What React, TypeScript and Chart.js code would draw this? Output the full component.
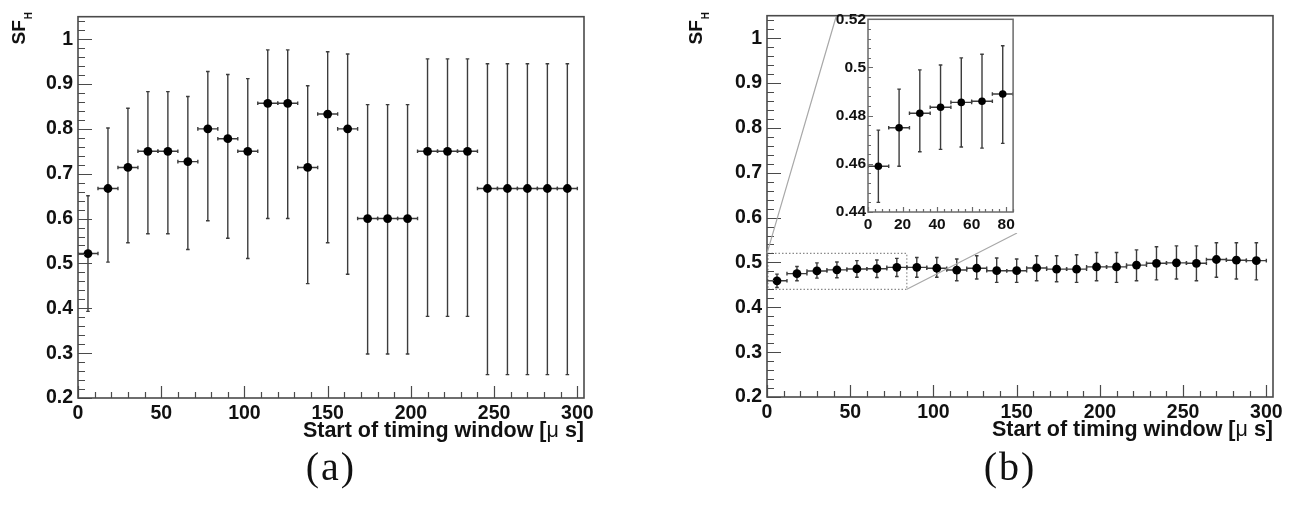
import React, { useEffect, useRef } from "react";
import { Chart, registerables } from "chart.js";
Chart.register(...registerables);

// ---------- data ----------
const BIN_CENTERS = [6, 18, 30, 42, 54, 66, 78, 90, 102, 114, 126, 138, 150, 162, 174, 186, 198, 210, 222, 234, 246, 258, 270, 282, 294];
const BIN_HALF_WIDTH = 6;

const SF_A = [0.522, 0.667, 0.714, 0.75, 0.75, 0.727, 0.8, 0.778, 0.75, 0.857, 0.857, 0.714, 0.833, 0.8, 0.6, 0.6, 0.6, 0.75, 0.75, 0.75, 0.667, 0.667, 0.667, 0.667, 0.667];
const SF_A_UP = [0.651, 0.802, 0.846, 0.883, 0.883, 0.872, 0.928, 0.921, 0.912, 0.976, 0.976, 0.896, 0.972, 0.967, 0.854, 0.854, 0.854, 0.956, 0.956, 0.956, 0.945, 0.945, 0.945, 0.945, 0.945];
const SF_A_LO = [0.393, 0.503, 0.546, 0.566, 0.566, 0.531, 0.595, 0.556, 0.511, 0.6, 0.6, 0.455, 0.546, 0.476, 0.298, 0.298, 0.298, 0.382, 0.382, 0.382, 0.252, 0.252, 0.252, 0.252, 0.252];

const SF_B = [0.459, 0.475, 0.481, 0.4835, 0.4855, 0.486, 0.489, 0.489, 0.487, 0.483, 0.487, 0.4815, 0.4815, 0.4876, 0.485, 0.485, 0.49, 0.49, 0.494, 0.498, 0.499, 0.498, 0.5065, 0.505, 0.504];
const SF_B_UP = [0.474, 0.491, 0.499, 0.501, 0.504, 0.5055, 0.509, 0.511, 0.511, 0.5076, 0.515, 0.51, 0.5076, 0.515, 0.515, 0.517, 0.522, 0.522, 0.528, 0.535, 0.537, 0.537, 0.544, 0.544, 0.544];
const SF_B_LO = [0.444, 0.459, 0.465, 0.466, 0.467, 0.4665, 0.4685, 0.467, 0.467, 0.459, 0.463, 0.4556, 0.4556, 0.459, 0.457, 0.4556, 0.459, 0.4556, 0.459, 0.461, 0.463, 0.459, 0.467, 0.463, 0.461];

const INSET_BINS = 7;

const MAIN_X_TICKS = [0, 50, 100, 150, 200, 250, 300];
const MAIN_Y_TICKS = [0.2, 0.3, 0.4, 0.5, 0.6, 0.7, 0.8, 0.9, 1];
const INSET_X_TICKS = [0, 20, 40, 60, 80];
const INSET_Y_TICKS = [0.44, 0.46, 0.48, 0.5, 0.52];

const X_TITLE_PARTS = ["Start of timing window [", "\u03bc", " s]"];
const Y_TITLE = "SF";
const Y_TITLE_SUB = "H";
const CAPTIONS = ["(a)", "(b)"];

const ZOOM_X = [0, 84];
const ZOOM_Y = [0.44, 0.52];

const SANS = '"Liberation Sans", Arial, Helvetica, sans-serif';

type PanelCfg = {
  id: string;
  left: number;
  top: number;
  width: number;
  height: number;
  padTop: number;
  padRight: number;
  yAxisW: number;
  xAxisH: number;
  xMin: number;
  xMax: number;
  yMin: number;
  yMax: number;
  xTicks: number[];
  yTicks: number[];
  xMinorStep: number;
  yMinorStep: number;
  xMajorLen: number;
  xMinorLen: number;
  yMajorLen: number;
  yMinorLen: number;
  fontSize: number;
  xLabelPad: number;
  yLabelPad: number;
  xs: number[];
  ys: number[];
  up: number[];
  lo: number[];
  radius: number;
  frameColor: string;
  frameWidth: number;
  titles: boolean;
  yTitleX?: number;
  yTitleEnd?: number;
  bg?: [number, number, number, number];
  zoomBox?: boolean;
  connectors?: [number, number, number, number];
};

function makePlugin(cfg: PanelCfg) {
  return {
    id: "rootStyle_" + cfg.id,
    beforeDraw(chart: any) {
      if (!cfg.bg) return;
      const ctx = chart.ctx;
      ctx.save();
      ctx.fillStyle = "#ffffff";
      ctx.fillRect(cfg.bg[0], cfg.bg[1], cfg.bg[2], cfg.bg[3]);
      ctx.restore();
    },
    beforeDatasetsDraw(chart: any) {
      const { ctx, chartArea: a } = chart;
      const xs = chart.scales.x;
      const ys = chart.scales.y;
      ctx.save();
      ctx.beginPath();
      ctx.rect(a.left, a.top, a.right - a.left, a.bottom - a.top);
      ctx.clip();

      if (cfg.zoomBox) {
        const x0 = xs.getPixelForValue(ZOOM_X[0]);
        const x1 = xs.getPixelForValue(ZOOM_X[1]);
        const y0 = ys.getPixelForValue(ZOOM_Y[0]);
        const y1 = ys.getPixelForValue(ZOOM_Y[1]);
        ctx.strokeStyle = "#8a8a8a";
        ctx.lineWidth = 1.2;
        ctx.setLineDash([1.5, 2]);
        ctx.strokeRect(x0 + 1, y1, x1 - x0 - 1, y0 - y1);
        ctx.setLineDash([]);
      }

      ctx.strokeStyle = "#3c3c3c";
      ctx.lineWidth = 1.4;
      const c = 1.8;
      for (let i = 0; i < cfg.xs.length; i++) {
        const px = xs.getPixelForValue(cfg.xs[i]);
        const py = ys.getPixelForValue(cfg.ys[i]);
        const pu = ys.getPixelForValue(cfg.up[i]);
        const pl = ys.getPixelForValue(cfg.lo[i]);
        const pL = xs.getPixelForValue(cfg.xs[i] - BIN_HALF_WIDTH);
        const pR = xs.getPixelForValue(cfg.xs[i] + BIN_HALF_WIDTH);
        ctx.beginPath();
        ctx.moveTo(px, pu);
        ctx.lineTo(px, pl);
        ctx.moveTo(pL, py);
        ctx.lineTo(pR, py);
        ctx.moveTo(px - c, pu);
        ctx.lineTo(px + c, pu);
        ctx.moveTo(px - c, pl);
        ctx.lineTo(px + c, pl);
        ctx.moveTo(pL, py - c);
        ctx.lineTo(pL, py + c);
        ctx.moveTo(pR, py - c);
        ctx.lineTo(pR, py + c);
        ctx.stroke();
      }
      ctx.restore();
    },
    afterDatasetsDraw(chart: any) {
      const { ctx, chartArea: a } = chart;
      const xs = chart.scales.x;
      const ys = chart.scales.y;
      ctx.save();
      ctx.strokeStyle = cfg.frameColor;
      ctx.lineWidth = cfg.frameWidth;
      ctx.strokeRect(a.left, a.top, a.right - a.left, a.bottom - a.top);

      ctx.lineWidth = 1.2;
      ctx.beginPath();
      const nx = Math.round((cfg.xMax - cfg.xMin) / cfg.xMinorStep);
      for (let k = 0; k <= nx; k++) {
        const v = cfg.xMin + k * cfg.xMinorStep;
        if (v > cfg.xMax + 1e-9) break;
        const isMajor = cfg.xTicks.some((t) => Math.abs(t - v) < 1e-6);
        const len = isMajor ? cfg.xMajorLen : cfg.xMinorLen;
        const p = Math.round(xs.getPixelForValue(v)) + 0.5;
        ctx.moveTo(p, a.bottom);
        ctx.lineTo(p, a.bottom - len);
      }
      const ny = Math.round((cfg.yMax - cfg.yMin) / cfg.yMinorStep);
      for (let k = 0; k <= ny; k++) {
        const v = cfg.yMin + k * cfg.yMinorStep;
        if (v > cfg.yMax + 1e-9) break;
        const isMajor = cfg.yTicks.some((t) => Math.abs(t - v) < 1e-6);
        const len = isMajor ? cfg.yMajorLen : cfg.yMinorLen;
        const p = Math.round(ys.getPixelForValue(v)) + 0.5;
        ctx.moveTo(a.left, p);
        ctx.lineTo(a.left + len, p);
      }
      ctx.stroke();
      ctx.restore();
    },
    afterDraw(chart: any) {
      const { ctx, chartArea: a } = chart;
      const xs = chart.scales.x;
      const ys = chart.scales.y;
      ctx.save();
      if (cfg.connectors) {
        const [ax, ay, bx, by] = cfg.connectors;
        ctx.strokeStyle = "#a8a8a8";
        ctx.lineWidth = 1.2;
        ctx.beginPath();
        ctx.moveTo(xs.getPixelForValue(ZOOM_X[0]), ys.getPixelForValue(ZOOM_Y[1]));
        ctx.lineTo(ax, ay);
        ctx.moveTo(xs.getPixelForValue(ZOOM_X[1]), ys.getPixelForValue(ZOOM_Y[0]));
        ctx.lineTo(bx, by);
        ctx.stroke();
      }
      if (cfg.titles) {
        ctx.fillStyle = "#111";
        const fonts = [`bold 21.5px ${SANS}`, `21.5px ${SANS}`, `bold 21.5px ${SANS}`];
        const widths = X_TITLE_PARTS.map((t, i) => {
          ctx.font = fonts[i];
          return ctx.measureText(t).width;
        });
        const total = widths.reduce((s, w) => s + w, 0);
        let x = a.right - total;
        const yb = a.bottom + 39;
        ctx.textBaseline = "alphabetic";
        ctx.textAlign = "left";
        X_TITLE_PARTS.forEach((t, i) => {
          ctx.font = fonts[i];
          ctx.fillText(t, x, yb);
          x += widths[i];
        });
        ctx.translate(cfg.yTitleX as number, cfg.yTitleEnd as number);
        ctx.rotate(-Math.PI / 2);
        ctx.font = `bold 19px ${SANS}`;
        const w1 = ctx.measureText(Y_TITLE).width;
        ctx.font = `bold 10px ${SANS}`;
        const w2 = ctx.measureText(Y_TITLE_SUB).width;
        ctx.font = `bold 19px ${SANS}`;
        ctx.fillText(Y_TITLE, -(w1 + w2 + 1), 0);
        ctx.font = `bold 10px ${SANS}`;
        ctx.fillText(Y_TITLE_SUB, -w2, 7);
      }
      ctx.restore();
    },
  };
}

function PanelChart({ cfg }: { cfg: PanelCfg }) {
  const ref = useRef<HTMLCanvasElement | null>(null);
  useEffect(() => {
    if (!ref.current) return;
    const font = { family: SANS, size: cfg.fontSize, weight: "bold" as const };
    const chart = new Chart(ref.current, {
      type: "scatter",
      data: {
        datasets: [
          {
            data: cfg.xs.map((x, i) => ({ x, y: cfg.ys[i] })),
            pointRadius: cfg.radius,
            pointBackgroundColor: "#000",
            pointBorderColor: "#000",
            pointBorderWidth: 0,
            showLine: false,
          },
        ],
      },
      options: {
        responsive: false,
        animation: false,
        events: [],
        layout: { padding: { left: 0, top: cfg.padTop, right: cfg.padRight, bottom: 0 } },
        plugins: { legend: { display: false }, tooltip: { enabled: false } },
        scales: {
          x: {
            type: "linear",
            min: cfg.xMin,
            max: cfg.xMax,
            grid: { display: false, drawTicks: false },
            border: { display: false },
            afterBuildTicks: (s: any) => {
              s.ticks = cfg.xTicks.map((v) => ({ value: v }));
            },
            afterFit: (s: any) => {
              s.height = cfg.xAxisH;
            },
            ticks: {
              font,
              color: "#111",
              padding: cfg.xLabelPad,
              maxRotation: 0,
              minRotation: 0,
              autoSkip: false,
              callback: (v: any) => String(v),
            },
          },
          y: {
            type: "linear",
            min: cfg.yMin,
            max: cfg.yMax,
            grid: { display: false, drawTicks: false },
            border: { display: false },
            afterBuildTicks: (s: any) => {
              s.ticks = cfg.yTicks.map((v) => ({ value: v }));
            },
            afterFit: (s: any) => {
              s.width = cfg.yAxisW;
            },
            ticks: {
              font,
              color: "#111",
              padding: cfg.yLabelPad,
              autoSkip: false,
              callback: (v: any) => String(v),
            },
          },
        },
      },
      plugins: [makePlugin(cfg)],
    } as any);
    return () => chart.destroy();
  }, []);
  return (
    <div style={{ position: "absolute", left: cfg.left, top: cfg.top, width: cfg.width, height: cfg.height }}>
      <canvas ref={ref} width={cfg.width} height={cfg.height} style={{ width: cfg.width, height: cfg.height, display: "block" }} />
    </div>
  );
}

const RIGHT_LEFT = 689;
const RIGHT_TOP = -1;
const INSET_LEFT = 832;
const INSET_TOP = 8;

const mainBase = {
  width: 600,
  height: 448,
  padTop: 10,
  padRight: 16,
  yAxisW: 78,
  xAxisH: 50,
  xMin: 0,
  xMax: 304,
  yMin: 0.2,
  yMax: 1.05,
  xTicks: MAIN_X_TICKS,
  yTicks: MAIN_Y_TICKS,
  xMinorStep: 10,
  yMinorStep: 0.02,
  xMajorLen: 12,
  xMinorLen: 6,
  yMajorLen: 14,
  yMinorLen: 7,
  fontSize: 19.5,
  xLabelPad: 4,
  yLabelPad: 5,
  radius: 4.4,
  frameColor: "#4a4a4a",
  frameWidth: 1.6,
  titles: true,
};

const panelA: PanelCfg = {
  ...mainBase,
  id: "a",
  left: 0,
  top: 0,
  xs: BIN_CENTERS,
  ys: SF_A,
  up: SF_A_UP,
  lo: SF_A_LO,
  yTitleX: 25,
  yTitleEnd: 12,
};

const panelB: PanelCfg = {
  ...mainBase,
  id: "b",
  left: RIGHT_LEFT,
  top: RIGHT_TOP,
  xs: BIN_CENTERS,
  ys: SF_B,
  up: SF_B_UP,
  lo: SF_B_LO,
  yTitleX: 13,
  yTitleEnd: 13,
  zoomBox: true,
  connectors: [836 - RIGHT_LEFT, 17 - RIGHT_TOP, 1017 - RIGHT_LEFT, 233 - RIGHT_TOP],
};

const panelInset: PanelCfg = {
  id: "inset",
  left: INSET_LEFT,
  top: INSET_TOP,
  width: 186,
  height: 228,
  padTop: 11,
  padRight: 2,
  yAxisW: 36,
  xAxisH: 24,
  xMin: ZOOM_X[0],
  xMax: ZOOM_X[1],
  yMin: ZOOM_Y[0],
  yMax: ZOOM_Y[1],
  xTicks: INSET_X_TICKS,
  yTicks: INSET_Y_TICKS,
  xMinorStep: 4,
  yMinorStep: 0.004,
  xMajorLen: 5,
  xMinorLen: 3,
  yMajorLen: 5,
  yMinorLen: 3,
  fontSize: 15.5,
  xLabelPad: 3,
  yLabelPad: 2,
  xs: BIN_CENTERS.slice(0, INSET_BINS),
  ys: SF_B.slice(0, INSET_BINS),
  up: SF_B_UP.slice(0, INSET_BINS),
  lo: SF_B_LO.slice(0, INSET_BINS),
  radius: 3.8,
  frameColor: "#6a6a6a",
  frameWidth: 1.5,
  titles: false,
  bg: [4, 9, 182, 216],
};

export default function App() {
  const capStyle = (cx: number): React.CSSProperties => ({
    position: "absolute",
    left: cx - 50,
    width: 100,
    top: 445,
    textAlign: "center",
    fontFamily: '"Liberation Serif", "Times New Roman", serif',
    fontSize: 40,
    letterSpacing: "2px",
    lineHeight: "44px",
    color: "#111",
  });
  return (
    <div style={{ position: "absolute", left: 0, top: 0, width: 1298, height: 510, overflow: "hidden", background: "#fff" }}>
      <PanelChart cfg={panelA} />
      <PanelChart cfg={panelB} />
      <PanelChart cfg={panelInset} />
      <div style={capStyle(331)}>{CAPTIONS[0]}</div>
      <div style={capStyle(1010)}>{CAPTIONS[1]}</div>
    </div>
  );
}
